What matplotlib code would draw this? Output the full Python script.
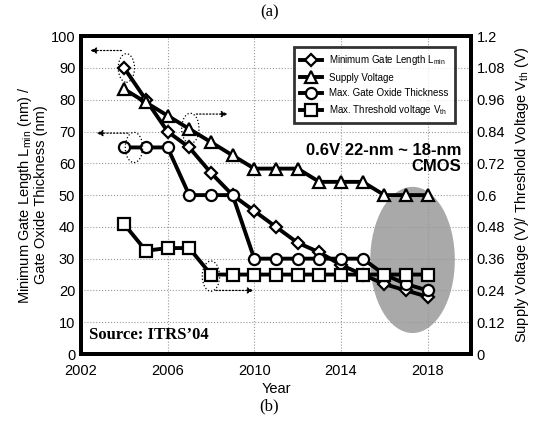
import matplotlib.pyplot as plt
from matplotlib.patches import Ellipse

plt.rcParams['font.family'] = ['Liberation Sans', 'DejaVu Sans']
plt.rcParams['mathtext.fontset'] = 'custom'
plt.rcParams['mathtext.rm'] = 'Liberation Sans'
plt.rcParams['mathtext.it'] = 'Liberation Sans'

years = [2004, 2005, 2006, 2007, 2008, 2009, 2010, 2011,
         2012, 2013, 2014, 2015, 2016, 2017, 2018]
gate_length = [90, 80, 70, 65, 57, 50, 45, 40, 35, 32, 28, 25, 22, 20, 18]
oxide_thick = [65, 65, 65, 50, 50, 50, 30, 30, 30, 30, 30, 30, 25, 22, 20]
supply_v = [1.0, 0.95, 0.9, 0.85, 0.8, 0.75, 0.7, 0.7,
            0.7, 0.65, 0.65, 0.65, 0.6, 0.6, 0.6]
thresh_v = [0.49, 0.39, 0.40, 0.40, 0.30, 0.30, 0.30, 0.30,
            0.30, 0.30, 0.30, 0.30, 0.30, 0.30, 0.30]

left_ticks = [0, 10, 20, 30, 40, 50, 60, 70, 80, 90, 100]
right_ticks = [0, 0.12, 0.24, 0.36, 0.48, 0.6, 0.72, 0.84, 0.96, 1.08, 1.2]
right_labels = ['0', '0.12', '0.24', '0.36', '0.48', '0.6',
                '0.72', '0.84', '0.96', '1.08', '1.2']
x_ticks = [2002, 2006, 2010, 2014, 2018]

fig = plt.figure(figsize=(5.39, 4.26), dpi=100)
ax = fig.add_axes([0.150, 0.169, 0.724, 0.746])
ax2 = ax.twinx()

lw = 2.8
kw = dict(color='black', lw=lw, markerfacecolor='white',
          markeredgecolor='black', markeredgewidth=1.6)

# shaded region
ax.add_patch(Ellipse((2017.3, 29.6), 3.9, 46, facecolor='#9a9a9a',
                     edgecolor='none', alpha=0.85, zorder=1))

l1, = ax.plot(years, gate_length, marker='D', ms=6, zorder=4, **kw)
l3, = ax.plot(years, oxide_thick, marker='o', ms=8, zorder=4, **kw)
l2, = ax2.plot(years, supply_v, marker='^', ms=8.5, zorder=4, **kw)
l4, = ax2.plot(years, thresh_v, marker='s', ms=8, zorder=4, **kw)

ax.set_xlim(2002, 2020)
ax.set_ylim(0, 100)
ax2.set_ylim(0, 1.2)
ax.set_xticks(x_ticks)
ax.set_yticks(left_ticks)
ax2.set_yticks(right_ticks)
ax2.set_yticklabels(right_labels)
ax.grid(True, ls=':', color='#999999', lw=0.8, zorder=2)
ax.set_axisbelow(False)

for a in (ax, ax2):
    a.tick_params(length=0, labelsize=10.5, pad=4)
    for s in a.spines.values():
        s.set_linewidth(2.8)
ax.tick_params(axis='x', pad=7)

ax.set_xlabel('Year', fontsize=10.5, labelpad=3)
ax.set_ylabel('Minimum Gate Length L$_{\\mathrm{min}}$ (nm) /\nGate Oxide Thickness (nm)',
              fontsize=10.5, labelpad=2, linespacing=1.0)
ax2.set_ylabel('Supply Voltage (V)/ Threshold Voltage V$_{\\mathrm{th}}$ (V)',
               fontsize=10.5, labelpad=6)

# dotted ellipses with arrows
ell_kw = dict(facecolor='none', edgecolor='black', ls=':', lw=0.9, zorder=5)
arr_kw = dict(arrowstyle='-|>', ls=':', lw=0.9, color='black', mutation_scale=9)
ax.add_patch(Ellipse((2004.1, 90), 0.75, 9, **ell_kw))
ax.annotate('', xy=(2002.3, 95.5), xytext=(2004.0, 95.5), arrowprops=arr_kw)
ax.add_patch(Ellipse((2004.45, 65), 0.8, 9.5, **ell_kw))
ax.annotate('', xy=(2002.6, 69.5), xytext=(2004.3, 69.5), arrowprops=arr_kw)
ax.add_patch(Ellipse((2007.05, 71), 0.8, 9.5, **ell_kw))
ax.annotate('', xy=(2008.9, 75.5), xytext=(2007.2, 75.5), arrowprops=arr_kw)
ax.add_patch(Ellipse((2008.0, 24.5), 0.8, 9.5, **ell_kw))
ax.annotate('', xy=(2010.1, 20), xytext=(2008.1, 20), arrowprops=arr_kw)

leg = ax2.legend([l1, l2, l3, l4],
                 ['Minimum Gate Length L$_{\\mathrm{min}}$', 'Supply Voltage',
                  'Max. Gate Oxide Thickness', 'Max. Threshold voltage V$_{\\mathrm{th}}$'],
                 loc='upper right', bbox_to_anchor=(0.97, 0.98), fontsize=7,
                 frameon=True, fancybox=False, edgecolor='black',
                 handlelength=2.2, borderpad=0.6, labelspacing=0.55)
leg.get_frame().set_linewidth(2)
leg.set_zorder(10)

ax2.text(0.975, 0.615, '0.6V 22-nm ~ 18-nm\nCMOS', transform=ax.transAxes,
         ha='right', va='center', fontsize=12, fontweight='bold',
         linespacing=1.15, zorder=6)
ax.text(0.02, 0.035, 'Source: ITRS\u201904', transform=ax.transAxes,
        ha='left', va='bottom', fontsize=12, fontweight='bold',
        family=['Liberation Serif', 'DejaVu Serif'], zorder=6)

fig.text(0.5, 0.97, '(a)', ha='center', va='center', fontsize=12,
         family=['Liberation Serif', 'DejaVu Serif'])
fig.text(0.5, 0.045, '(b)', ha='center', va='center', fontsize=12,
         family=['Liberation Serif', 'DejaVu Serif'])

fig.savefig('out.png', dpi=100)
